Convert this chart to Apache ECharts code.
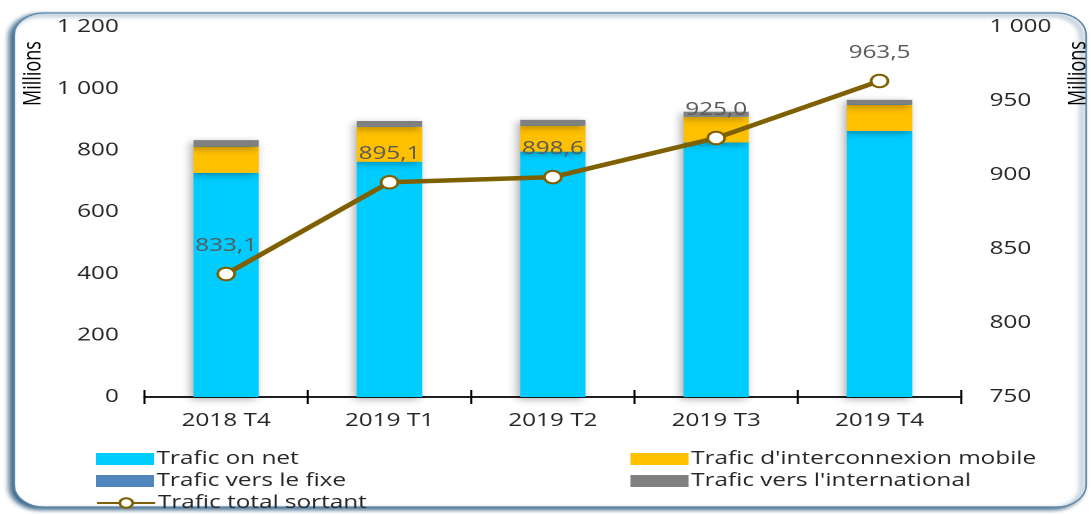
<!DOCTYPE html>
<html>
<head>
<meta charset="utf-8">
<script src="https://cdn.jsdelivr.net/npm/echarts@6/dist/echarts.min.js"></script>
<style>
  html, body { margin: 0; padding: 0; background: #fff; overflow: hidden; }
  /* the original picture is stretched sideways, so the chart is drawn narrow and widened */
  #container { width: 808px; height: 514px; transform: scaleX(1.35); transform-origin: 0 0; }
</style>
</head>
<body>
<div id="container"></div>
<script>
// quarters and traffic (millions of minutes)
const categories = ['2018 T4', '2019 T1', '2019 T2', '2019 T3', '2019 T4'];
const onNet = [727, 763, 796, 826, 863];
const mobile = [85, 113, 84, 83, 84];
const fixe = [2, 2, 2, 2, 2];
const intl = [19.1, 17.1, 16.6, 14, 14.5];
const total = [833.1, 895.1, 898.6, 925.0, 963.5];

const leftTicks = [0, 1200, 200];   // min, max, interval
const rightTicks = [750, 1000, 50];

const FONT = '"Open Sans", "DejaVu Sans", sans-serif';
const FS = 18;
const fmt = v => String(v).replace(/\B(?=(\d{3})+(?!\d))/g, ' ');
const comma = v => v.toFixed(1).replace('.', ',');

const chart = echarts.init(document.getElementById('container'), null, { devicePixelRatio: 2 });

const bar = (name, data, color) => ({
  name: name,
  type: 'bar',
  stack: 'trafic',
  barWidth: '40%',
  data: data,
  itemStyle: {
    color: color,
    shadowColor: 'rgba(0,0,0,0.35)',
    shadowBlur: 7,
    shadowOffsetX: -2,
    shadowOffsetY: 2
  }
});

// one legend per entry so they sit like the original two columns
const legendItem = (name, left, top, icon) => ({
  left: left, top: top, icon: icon,
  itemWidth: 43, itemHeight: 12, itemGap: 0,
  textStyle: { fontSize: FS, color: '#262626', fontFamily: FONT, padding: [0, 0, 0, -3] },
  data: [name]
});

const gridH = 514 - 27 - 117;

const opt = {
  animation: false,
  textStyle: { fontFamily: FONT },
  graphic: [
    {
      type: 'rect',
      z: -10,
      shape: { x: 10.5, y: 13, width: 794, height: 494, r: 22 },
      style: {
        fill: '#fff',
        stroke: '#5a86a8',
        lineWidth: 1.2,
        shadowColor: 'rgba(25,75,115,0.9)',
        shadowBlur: 4,
        shadowOffsetX: -3,
        shadowOffsetY: 2
      }
    },
    {
      type: 'text',
      x: 16, y: 106, rotation: Math.PI / 2,
      style: { text: 'Millions', font: FS + 'px ' + FONT, fill: '#000' }
    },
    {
      type: 'text',
      x: 790, y: 106, rotation: Math.PI / 2,
      style: { text: 'Millions', font: FS + 'px ' + FONT, fill: '#000' }
    }
  ],
  legend: [
    legendItem('Trafic on net', 66, 445, 'rect'),
    legendItem('Trafic vers le fixe', 66, 467, 'rect'),
    legendItem('Trafic total sortant', 66, 489),
    legendItem("Trafic d'interconnexion mobile", 462, 445, 'rect'),
    legendItem("Trafic vers l'international", 462, 467, 'rect')
  ],
  grid: { left: 107, right: 96, top: 27, bottom: 117 },
  xAxis: [
    {
      type: 'category',
      data: categories,
      axisLine: { lineStyle: { color: '#000', width: 1.5 } },
      axisTick: { show: true, length: 7, lineStyle: { color: '#000', width: 1.5 } },
      axisLabel: { fontSize: FS, color: '#262626', margin: 15, fontFamily: FONT }
    },
    {
      // top axis pulled down onto the bottom one: gives the upward half of the cross ticks
      type: 'category',
      position: 'top',
      offset: -gridH,
      data: categories,
      axisLine: { show: true, lineStyle: { color: '#000', width: 1.5 } },
      axisTick: { show: true, length: 7, lineStyle: { color: '#000', width: 1.5 } },
      axisLabel: { show: false }
    }
  ],
  yAxis: [
    {
      type: 'value',
      min: leftTicks[0], max: leftTicks[1], interval: leftTicks[2],
      axisLine: { show: false },
      axisTick: { show: false },
      splitLine: { show: false },
      axisLabel: { fontSize: FS, color: '#262626', margin: 19, formatter: fmt, fontFamily: FONT }
    },
    {
      type: 'value',
      min: rightTicks[0], max: rightTicks[1], interval: rightTicks[2],
      axisLine: { show: false },
      axisTick: { show: false },
      splitLine: { show: false },
      axisLabel: { fontSize: FS, color: '#262626', margin: 21, formatter: fmt, fontFamily: FONT }
    }
  ],
  series: [
    bar('Trafic on net', onNet, '#00ccff'),
    bar("Trafic d'interconnexion mobile", mobile, '#ffc000'),
    bar('Trafic vers le fixe', fixe, '#4f86bd'),
    bar("Trafic vers l'international", intl, '#808080'),
    {
      name: 'Trafic total sortant',
      type: 'line',
      yAxisIndex: 1,
      data: total,
      symbol: 'circle',
      symbolSize: 12.5,
      z: 5,
      lineStyle: { color: '#7f6000', width: 4.5 },
      itemStyle: { color: '#fff', borderColor: '#7f6000', borderWidth: 2 },
      label: {
        show: true,
        position: 'top',
        distance: 12,
        fontSize: FS,
        color: '#595959',
        fontFamily: FONT,
        formatter: p => comma(p.value)
      }
    }
  ]
};

chart.setOption(opt);
</script>
</body>
</html>
